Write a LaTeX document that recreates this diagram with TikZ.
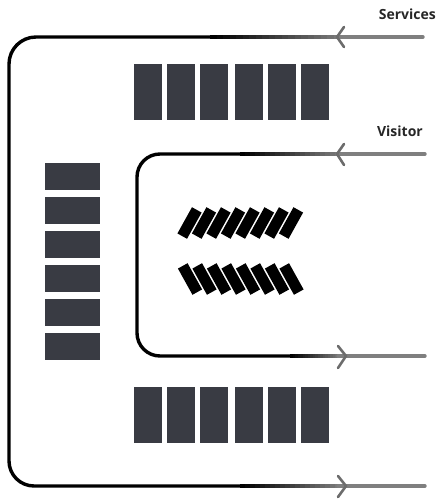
\documentclass[tikz,border=0pt]{standalone}
\usepackage{fontspec}
\setmainfont{Open Sans}
\definecolor{stall}{HTML}{393B43}
\definecolor{fadeline}{HTML}{7F7F7F}
\tikzset{
  x=1pt,y=-1pt,
  stallbox/.style={fill=stall,draw=none,inner sep=0pt,outer sep=0pt,minimum width=#1},
  bay/.style={stallbox=28pt,minimum height=56pt},
  sidebay/.style={stallbox=55pt,minimum height=27.5pt},
  tiltbay/.style={fill=black,draw=none,inner sep=0pt,outer sep=0pt,minimum width=11pt,minimum height=30pt},
  road/.style={line width=3.4pt,line cap=round,line join=round},
  barb/.style={line width=2.6pt,line cap=round,line join=round,color=fadeline!85!black},
  lab/.style={font=\bfseries\fontsize{14}{16}\selectfont,text=black!85,inner sep=0pt}
}
\begin{document}
\begin{tikzpicture}
\useasboundingbox (0,0) rectangle (438,502);
% parking bays
\foreach \n/\x in {1/148,2/181,3/214,4/248.5,5/282,6/315}{
  \node[bay] (top\n) at (\x,92) {};
  \node[bay] (bot\n) at (\x,414.5) {};
}
\foreach \n/\y in {1/176.5,2/210.5,3/244.5,4/278.5,5/312.5,6/346.5}{
  \node[sidebay] (side\n) at (72.5,\y) {};
}
\foreach \n in {0,...,7}{
  \node[tiltbay,rotate=-29] (upper\n) at ({189.5+14.5*\n},223) {};
  \node[tiltbay,rotate=29] (lower\n) at ({190+14.5*\n},279) {};
}
% black parts of the roads
\draw[road] (210,37) -- (36,37) arc[start angle=270,end angle=180,radius=27] -- (9,461) arc[start angle=180,end angle=90,radius=25] -- (240,486);
\draw[road] (240,154) -- (160,154) arc[start angle=270,end angle=180,radius=23] -- (137,333) arc[start angle=180,end angle=90,radius=23] -- (290,356);
% fading parts of the roads
\foreach \i in {0,...,19}{
  \pgfmathsetmacro{\p}{100-5*\i}
  \colorlet{segc}{black!\p!fadeline}
  \draw[line width=3.4pt,color=segc] ({210+6.5*\i},37) -- ({210+6.5*(\i+1)+.4},37);
  \draw[line width=3.4pt,color=segc] ({240+5*\i},154) -- ({240+5*(\i+1)+.4},154);
  \draw[line width=3.4pt,color=segc] ({290+2.5*\i},356) -- ({290+2.5*(\i+1)+.4},356);
  \draw[line width=3.4pt,color=segc] ({240+5*\i},486) -- ({240+5*(\i+1)+.4},486);
}
\draw[road,color=fadeline] (338,37) -- (423,37);
\draw[road,color=fadeline] (338,154) -- (425,154);
\draw[road,color=fadeline] (338,356) -- (425,356);
\draw[road,color=fadeline] (338,486) -- (425,486);
% arrowheads
\draw[barb] (344,27) -- (337,37) -- (344,47);
\draw[barb] (344,144) -- (337,154) -- (344,165);
\draw[barb] (338,346) -- (346,356) -- (338,368);
\draw[barb] (338,476) -- (346,486) -- (338,497);
% labels
\node[lab,anchor=east] (services) at (436,14.5) {Services};
\node[lab,anchor=east] (visitor) at (423,131) {Visitor};
\end{tikzpicture}
\end{document}
